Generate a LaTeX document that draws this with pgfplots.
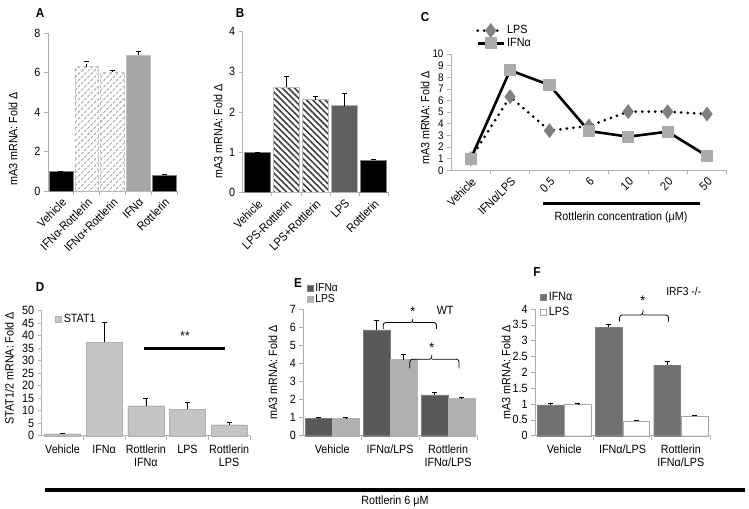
\documentclass[border=0pt]{standalone}
\usepackage{fontspec}
\setmainfont{Liberation Sans}[FakeStretch=0.9]
\usepackage{pgfplots}
\pgfplotsset{compat=1.18}
\usetikzlibrary{patterns.meta}

\definecolor{barA}{HTML}{A6A6A6}
\definecolor{barB}{HTML}{606060}
\definecolor{statgray}{HTML}{C4C4C4}
\definecolor{edark}{HTML}{595959}
\definecolor{elight}{HTML}{B0B0B0}
\definecolor{fdark}{HTML}{707070}
\definecolor{lpsmark}{HTML}{808080}
\definecolor{ifnmark}{HTML}{ABABAB}

\pgfplotsset{
  panel/.style={
    scale only axis, anchor=south west, clip=false,
    axis x line*=bottom, axis y line*=left,
    axis line style={gray!60, line width=0.6bp},
    tick style={gray!60, line width=0.6bp},
    tick align=outside, major tick length=4bp, minor tick length=4bp,
    every major x tick/.append style={draw=none},
    tick label style={font=\fontsize{12}{12.5}\selectfont, black},
    /pgf/number format/assume math mode=true,
    ylabel style={font=\fontsize{12}{13}\selectfont, anchor=center},
  },
  rotlabels/.style={xticklabel style={rotate=45, anchor=north east, inner sep=1.5bp, font=\fontsize{12}{13}\selectfont}},
  botlabels/.style={xticklabel style={align=center, yshift=-2bp}},
  eb/.style={error bars/.cd, y dir=plus, y explicit,
    error bar style={black, line width=0.6bp},
    error mark options={rotate=90, mark size=2.5bp, black, line width=0.6bp}},
  sqlegend/.style={legend image code/.code={\draw[##1] (0bp,-3bp) rectangle (6bp,3bp);}},
}

\begin{document}
\begin{tikzpicture}
\useasboundingbox (0,0) rectangle (749bp,509bp);

% ---- A ----
\begin{axis}[panel, rotlabels, at={(48bp,318bp)}, width=129bp, height=158bp,
  xmin=0.5, xmax=5.5, ymin=0, ymax=8, ytick={0,2,...,8},
  xtick={1,...,5}, minor xtick={1.5,2.5,3.5,4.5,5.5},
  xticklabels={Vehicle,IFNα-Rottlerin,IFNα+Rottlerin,IFNα,Rottlerin},
  ylabel={mA3 mRNA: Fold Δ}, ylabel style={at={(axis description cs:-0.27,0.33)}},
  ybar, bar width=0.93]
\addplot[fill=black, draw=gray, bar shift=0, eb] coordinates {(1,0.98) +- (0,0.02)};
\addplot[pattern={Lines[angle=45,distance=4.5bp,line width=0.9bp]}, pattern color=gray!70, draw=gray!50, dashed, bar shift=0, eb] coordinates {(2,6.3) +- (0,0.25)};
\addplot[pattern={Lines[angle=45,distance=4.5bp,line width=0.9bp]}, pattern color=gray!70, draw=gray!50, dashed, bar shift=0, eb] coordinates {(3,6.02) +- (0,0.1)};
\addplot[fill=barA, draw=gray!50, bar shift=0, eb] coordinates {(4,6.9) +- (0,0.15)};
\addplot[fill=black, draw=gray, bar shift=0, eb] coordinates {(5,0.8) +- (0,0.04)};
\end{axis}

% ---- B ----
\begin{axis}[panel, rotlabels, at={(242.7bp,316.7bp)}, width=145.3bp, height=160.6bp,
  xmin=0.5, xmax=5.5, ymin=0, ymax=4, ytick={0,...,4},
  xtick={1,...,5}, minor xtick={1.5,2.5,3.5,4.5,5.5},
  xticklabels={Vehicle,LPS-Rottlerin,LPS+Rottlerin,LPS,Rottlerin},
  ylabel={mA3 mRNA: Fold Δ}, ylabel style={at={(axis description cs:-0.17,0.38)}},
  ybar, bar width=0.88]
\addplot[fill=black, draw=gray, bar shift=0, eb] coordinates {(1,0.99) +- (0,0.01)};
\addplot[pattern={Lines[angle=-45,distance=4.4bp,line width=1.6bp]}, pattern color=black!75, draw=gray!50, bar shift=0, eb] coordinates {(2,2.62) +- (0,0.28)};
\addplot[pattern={Lines[angle=-45,distance=4.4bp,line width=1.6bp]}, pattern color=black!75, draw=gray!50, bar shift=0, eb] coordinates {(3,2.31) +- (0,0.07)};
\addplot[fill=barB, draw=gray!60, bar shift=0, eb] coordinates {(4,2.16) +- (0,0.3)};
\addplot[fill=black, draw=gray, bar shift=0, eb] coordinates {(5,0.8) +- (0,0.02)};
\end{axis}

% ---- C ----
\begin{axis}[panel, rotlabels, at={(451bp,338.7bp)}, width=275.7bp, height=116.3bp,
  xmin=0.5, xmax=7.5, ymin=0, ymax=10, ytick={0,...,10},
  yticklabel style={font=\fontsize{11}{11}\selectfont},
  xtick={1,...,7}, minor xtick={1.5,2.5,...,7.5},
  xticklabels={Vehicle,IFNα/LPS,0.5,6,10,20,50},
  ylabel={mA3 mRNA: Fold Δ}, ylabel style={at={(axis description cs:-0.094,0.45)}},
  legend style={at={(0.08,1.28)}, anchor=north west, draw=none, fill=none,
    font=\fontsize{12}{13}\selectfont, row sep=-1bp},
  legend cell align=left,
  legend image code/.code={\draw[mark repeat=2,mark phase=2,#1] plot coordinates {(0bp,0bp) (13bp,0bp) (26bp,0bp)};}]
\addplot[black, line width=3bp, dash pattern=on 0bp off 6.5bp, line cap=round,
  mark=diamond*, mark size=5bp, mark options={solid, fill=lpsmark, draw=lpsmark}]
  coordinates {(1,1.0) (2,6.33) (3,3.41) (4,3.81) (5,5.04) (6,5.04) (7,4.84)};
\addlegendentry{LPS}
\addplot[black, line width=2.6bp,
  mark=square*, mark size=4.8bp, mark options={solid, fill=ifnmark, draw=ifnmark}]
  coordinates {(1,0.97) (2,8.6) (3,7.33) (4,3.38) (5,2.89) (6,3.32) (7,1.23)};
\addlegendentry{IFNα}
\end{axis}
\draw[line width=3bp] (543bp,305bp) -- (700bp,305bp);
\node[font=\fontsize{12}{13}\selectfont] at (621bp,292bp) {Rottlerin concentration (μM)};

% ---- D ----
\begin{axis}[panel, botlabels, at={(41.7bp,73.3bp)}, width=208.3bp, height=125bp,
  xmin=0.5, xmax=5.5, ymin=0, ymax=50, ytick={0,5,...,50},
  xtick={1,...,5}, minor xtick={1.5,2.5,3.5,4.5,5.5},
  xticklabels={Vehicle,IFNα,Rottlerin\\IFNα,LPS,Rottlerin\\LPS},
  ylabel={STAT1/2 mRNA: Fold Δ}, ylabel style={at={(axis description cs:-0.155,0.54)}},
  ybar, bar width=0.87, sqlegend,
  legend style={at={(0.06,0.93)}, anchor=west, draw=none, fill=none,
    font=\fontsize{12}{13}\selectfont, inner sep=1bp}]
\addplot[fill=statgray, draw=gray!60, bar shift=0, eb] coordinates {
  (1,0.8) +- (0,0)
  (2,37.4) +- (0,8)
  (3,12.0) +- (0,3.1)
  (4,10.5) +- (0,2.9)
  (5,4.4) +- (0,1.1)};
\addlegendentry{STAT1}
\draw[line width=3bp] (axis cs:2.95,34.8) -- (axis cs:4.91,34.8);
\node[font=\fontsize{13}{13}\selectfont] at (axis cs:3.94,40) {**};
\end{axis}

% ---- E ----
\begin{axis}[panel, botlabels, at={(303.3bp,73.3bp)}, width=173.7bp, height=126.7bp,
  xmin=0.5, xmax=3.5, ymin=0, ymax=7, ytick={0,...,7},
  xtick={1,...,3}, minor xtick={1.5,2.5,3.5},
  xticklabels={Vehicle,IFNα/LPS,Rottlerin\\IFNα/LPS},
  ylabel={mA3 mRNA: Fold Δ}, ylabel style={at={(axis description cs:-0.175,0.5)}},
  ybar, bar width=0.46, sqlegend,
  legend style={at={(0.02,1.22)}, anchor=north west, draw=none, fill=none,
    font=\fontsize{11.5}{12}\selectfont, row sep=-2bp, inner sep=0bp},
  legend cell align=left]
\addplot[fill=edark, draw=gray, bar shift=-0.235, eb] coordinates {
  (1,0.95) +- (0,0.05) (2,5.85) +- (0,0.55) (3,2.25) +- (0,0.15)};
\addlegendentry{IFNα}
\addplot[fill=elight, draw=gray!60, bar shift=0.235, eb] coordinates {
  (1,0.95) +- (0,0.05) (2,4.2) +- (0,0.3) (3,2.05) +- (0,0.07)};
\addlegendentry{LPS}
\draw[black, line width=0.8bp, rounded corners=2.5bp]
  (axis cs:1.88,5.9) -- (axis cs:1.88,6.25) -- (axis cs:2.39,6.25) -- (axis cs:2.39,6.45)
  (axis cs:2.39,6.25) -- (axis cs:2.8,6.25) -- (axis cs:2.8,5.9);
\node[font=\fontsize{14}{14}\selectfont] at (axis cs:2.39,6.85) {*};
\draw[black, line width=0.8bp, rounded corners=2.5bp]
  (axis cs:2.34,3.72) -- (axis cs:2.34,4.22) -- (axis cs:2.72,4.22) -- (axis cs:2.72,4.46)
  (axis cs:2.72,4.22) -- (axis cs:3.19,4.22) -- (axis cs:3.19,3.72);
\node[font=\fontsize{14}{14}\selectfont] at (axis cs:2.72,4.85) {*};
\node[font=\fontsize{12}{13}\selectfont] at (axis cs:2.95,6.9) {WT};
\end{axis}

% ---- F ----
\begin{axis}[panel, botlabels, at={(535bp,73.3bp)}, width=175bp, height=126.7bp,
  xmin=0.5, xmax=3.5, ymin=0, ymax=4, ytick={0,0.5,...,4},
  xtick={1,...,3}, minor xtick={1.5,2.5,3.5},
  xticklabels={Vehicle,IFNα/LPS,Rottlerin\\IFNα/LPS},
  ylabel={mA3 mRNA: Fold Δ}, ylabel style={at={(axis description cs:-0.165,0.5)}},
  ybar, bar width=0.46, sqlegend,
  legend style={at={(0.03,1.15)}, anchor=north west, draw=none, fill=none,
    font=\fontsize{12}{13}\selectfont, row sep=1bp, inner sep=0bp},
  legend cell align=left]
\addplot[fill=fdark, draw=gray, bar shift=-0.235, eb] coordinates {
  (1,0.97) +- (0,0.04) (2,3.43) +- (0,0.1) (3,2.22) +- (0,0.12)};
\addlegendentry{IFNα}
\addplot[fill=white, draw=gray!70, bar shift=0.235, eb] coordinates {
  (1,1.0) +- (0,0.01) (2,0.47) +- (0,0.02) (3,0.61) +- (0,0.04)};
\addlegendentry{LPS}
\draw[black, line width=0.8bp, rounded corners=2.5bp]
  (axis cs:1.95,3.6) -- (axis cs:1.95,3.81) -- (axis cs:2.35,3.81) -- (axis cs:2.35,3.97)
  (axis cs:2.35,3.81) -- (axis cs:2.79,3.81) -- (axis cs:2.79,3.6);
\node[font=\fontsize{14}{14}\selectfont] at (axis cs:2.35,4.25) {*};
\node[font=\fontsize{11.5}{12}\selectfont] at (axis cs:3.05,4.54) {IRF3 -/-};
\end{axis}

\draw[line width=3.5bp] (45bp,19bp) -- (745bp,19bp);
\node[font=\fontsize{12}{13}\selectfont] at (395bp,8bp) {Rottlerin 6 μM};

% panel letters
\begin{scope}[every node/.style={font=\bfseries\fontsize{13}{14}\selectfont}]
\node at (40bp,496bp) {A};
\node at (240bp,496bp) {B};
\node at (425bp,492bp) {C};
\node at (40bp,222bp) {D};
\node at (298bp,226bp) {E};
\node at (537bp,237bp) {F};
\end{scope}
\end{tikzpicture}
\end{document}
